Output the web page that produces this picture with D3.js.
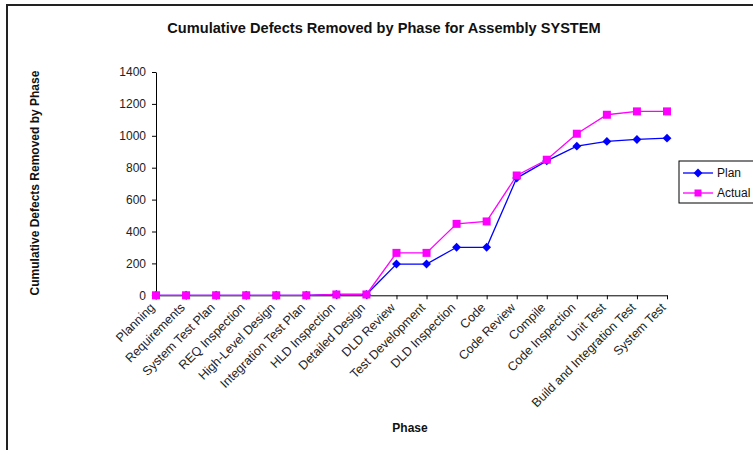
<!DOCTYPE html>
<html><head><meta charset="utf-8">
<script src="https://cdn.jsdelivr.net/npm/d3@7/dist/d3.min.js"></script>
<style>
body{margin:0;background:#fff;}
svg{display:block;font-family:"Liberation Sans",Arial,sans-serif;}
</style></head>
<body>
<svg id="c" width="753" height="450"></svg>
<script>
const phases = ["Planning","Requirements","System Test Plan","REQ Inspection","High-Level Design","Integration Test Plan","HLD Inspection","Detailed Design","DLD Review","Test Development","DLD Inspection","Code","Code Review","Compile","Code Inspection","Unit Test","Build and Integration Test","System Test"];
const planValues = [0,0,0,0,0,0,5,5,196,196,301,301,735,843,935,965,977,985];
const actualValues = [0,0,0,0,0,0,5,5,266,266,448,463,751,850,1013,1132,1153,1153];
const yTicks = [0,200,400,600,800,1000,1200,1400];
const seriesNames = ["Plan","Actual"];

const svg = d3.select("#c");
// outer frame
svg.append("rect").attr("x",7).attr("y",5).attr("width",800).attr("height",500)
  .attr("fill","none").attr("stroke","#222").attr("stroke-width",2);

const x = d3.scalePoint().domain(phases).range([156,667]);
const y = d3.scaleLinear().domain([0,1400]).range([295.3,72]);

// title
svg.append("text").attr("x",384).attr("y",33).attr("text-anchor","middle")
  .attr("font-size","14.6px").attr("font-weight","bold").attr("fill","#111")
  .text("Cumulative Defects Removed by Phase for Assembly SYSTEM");

// y axis
const ya = svg.append("g").attr("transform","translate(156,0)")
  .call(d3.axisLeft(y).tickValues(yTicks).tickFormat(d3.format("d")).tickSize(4).tickSizeOuter(0).tickPadding(6));
ya.selectAll("text").attr("font-size","12px").attr("fill","#222").attr("font-family","Liberation Sans, Arial, sans-serif");
ya.selectAll("line,path").attr("stroke","#000");

// x axis
const xa = svg.append("g").attr("transform","translate(0,295.3)")
  .call(d3.axisBottom(x).tickSize(4).tickSizeOuter(0).tickPadding(0));
xa.selectAll("line,path").attr("stroke","#000");
xa.selectAll("text").attr("font-size","12.5px").attr("fill","#222")
  .attr("font-family","Liberation Sans, Arial, sans-serif")
  .attr("text-anchor","end").attr("dy",null).attr("y",null)
  .attr("transform","translate(-1,13) rotate(-45)");

// axis titles
svg.append("text").attr("transform","translate(39,183) rotate(-90)").attr("text-anchor","middle")
  .attr("font-size","12px").attr("font-weight","bold").attr("fill","#111")
  .text("Cumulative Defects Removed by Phase");
svg.append("text").attr("x",410).attr("y",432).attr("text-anchor","middle")
  .attr("font-size","12px").attr("font-weight","bold").attr("fill","#111").text("Phase");

const line = d3.line().x((d,i)=>x(phases[i])).y(d=>y(d));
const planColor = "#0000ff", actualColor = "#ff00ff";

svg.append("path").datum(planValues).attr("d",line).attr("fill","none").attr("stroke",planColor).attr("stroke-width",1.3);
svg.append("path").datum(actualValues).attr("d",line).attr("fill","none").attr("stroke",actualColor).attr("stroke-width",1.3);

const diamond = d3.symbol().type(d3.symbolDiamond2).size(50);
svg.append("g").selectAll("path").data(planValues).join("path")
  .attr("d",diamond)
  .attr("transform",(d,i)=>`translate(${x(phases[i])},${y(d)})`)
  .attr("fill",planColor);
svg.append("g").selectAll("rect").data(actualValues).join("rect")
  .attr("x",(d,i)=>x(phases[i])-4).attr("y",d=>y(d)-4)
  .attr("width",8).attr("height",8).attr("fill",actualColor);

// legend
const lg = svg.append("g");
lg.append("rect").attr("x",679).attr("y",161).attr("width",90).attr("height",42)
  .attr("fill","#fff").attr("stroke","#000").attr("stroke-width",1);
const items = [{n:seriesNames[0],c:planColor,t:"d",yy:173},{n:seriesNames[1],c:actualColor,t:"s",yy:193}];
items.forEach(it=>{
  lg.append("line").attr("x1",683).attr("x2",713).attr("y1",it.yy).attr("y2",it.yy).attr("stroke",it.c).attr("stroke-width",1.3);
  if(it.t==="d") lg.append("path").attr("d",diamond).attr("transform",`translate(698,${it.yy})`).attr("fill",it.c);
  else lg.append("rect").attr("x",694.5).attr("y",it.yy-3.5).attr("width",7).attr("height",7).attr("fill",it.c);
  lg.append("text").attr("x",717).attr("y",it.yy+4).attr("font-size","12px").attr("fill","#111").text(it.n);
});
</script>
</body></html>
